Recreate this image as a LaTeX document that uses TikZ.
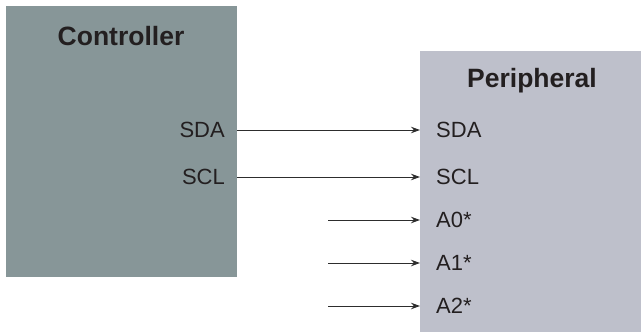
\documentclass[tikz,border=0pt]{standalone}
\usepackage{fontspec}
\setmainfont{Liberation Sans}
\usetikzlibrary{arrows.meta}
\definecolor{ctrlfill}{RGB}{135,150,152}
\definecolor{perfill}{RGB}{190,192,203}
\definecolor{txt}{RGB}{35,31,32}
\definecolor{wire}{RGB}{45,45,45}
\tikzset{
  blockbox/.style={draw=none, anchor=north west, inner sep=0pt},
  title/.style={font=\fontsize{26.5}{31}\selectfont\bfseries, text=txt, inner sep=0pt},
  pinlabel/.style={font=\fontsize{22}{26}\selectfont, text=txt, inner sep=0pt},
  sig/.style={draw=wire, line width=1pt, -{Stealth[length=9pt,width=6.5pt]}}
}
\begin{document}
\begin{tikzpicture}[x=1pt,y=-1pt]
\useasboundingbox (0,0) rectangle (641,332);
\node[blockbox, fill=ctrlfill, minimum width=231pt, minimum height=271pt] (ctrl) at (6,6) {};
\node[blockbox, fill=perfill, minimum width=221pt, minimum height=281pt] (per) at (420,51) {};
\node[title] (ctitle) at (121,36) {Controller};
\node[title] (ptitle) at (532,81) {Peripheral};
% controller pins
\node[pinlabel, anchor=east] (csda) at (225,130) {SDA};
\node[pinlabel, anchor=east] (cscl) at (225,177) {SCL};
% peripheral pins
\node[pinlabel, anchor=west] (psda) at (436,130) {SDA};
\node[pinlabel, anchor=west] (pscl) at (436,177) {SCL};
\node[pinlabel, anchor=west] (pa0) at (436,220) {A0*};
\node[pinlabel, anchor=west] (pa1) at (436,263) {A1*};
\node[pinlabel, anchor=west] (pa2) at (436,306) {A2*};
\coordinate (a0in) at (328,220);
\coordinate (a1in) at (328,263);
\coordinate (a2in) at (328,306);
\draw[sig] (ctrl.east |- csda) -- (per.west |- psda);
\draw[sig] (ctrl.east |- cscl) -- (per.west |- pscl);
\draw[sig] (a0in) -- (per.west |- pa0);
\draw[sig] (a1in) -- (per.west |- pa1);
\draw[sig] (a2in) -- (per.west |- pa2);
\end{tikzpicture}
\end{document}
